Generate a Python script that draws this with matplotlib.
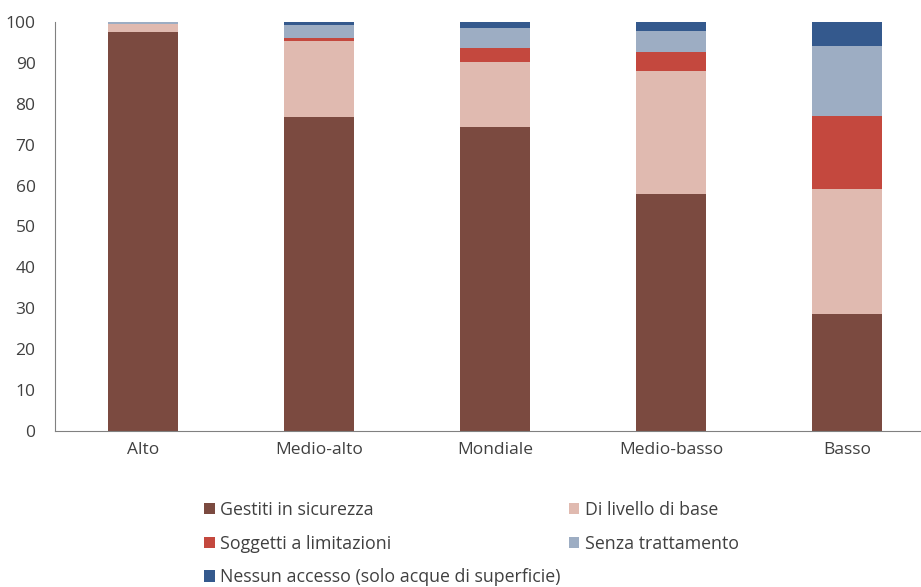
import matplotlib
matplotlib.use("Agg")
import matplotlib.pyplot as plt
from matplotlib.patches import Patch
import numpy as np

plt.rcParams['font.family'] = ['Open Sans', 'DejaVu Sans']

categories = ["Alto", "Medio-alto", "Mondiale", "Medio-basso", "Basso"]
series_names = ["Gestiti in sicurezza", "Di livello di base", "Soggetti a limitazioni",
                "Senza trattamento", "Nessun accesso (solo acque di superficie)"]
gestiti = [97.5, 76.7, 74.3, 58.0, 28.6]
base = [2.0, 18.7, 15.8, 29.9, 30.6]
limitazioni = [0.0, 0.6, 3.5, 4.7, 17.8]
senza = [0.5, 3.3, 4.9, 5.2, 17.1]
nessun = [0.0, 0.7, 1.5, 2.2, 5.9]
colors = ["#7B4A40", "#E0BAB0", "#C4483E", "#9DADC3", "#34598D"]

values = [gestiti, base, limitazioni, senza, nessun]
text_color = "#404040"

fig = plt.figure(figsize=(9.21, 5.87), dpi=100)
ax = fig.add_axes([55/921, (587-431)/587, (921-55)/921, (431-22)/587])

x = np.arange(len(categories))
bottom = np.zeros(len(categories))
for vals, col, name in zip(values, colors, series_names):
    ax.bar(x, vals, width=0.4, bottom=bottom, color=col, label=name, zorder=2)
    bottom += np.array(vals)

ax.set_ylim(0, 100)
ax.set_xlim(-0.5, 4.42)
ax.set_yticks(np.arange(0, 101, 10))
ax.set_xticks(x)
ax.set_xticklabels(categories)
ax.tick_params(axis='both', length=0, labelsize=12.5, colors=text_color, pad=8)
ax.tick_params(axis='y', pad=14)
for s in ["top", "right"]:
    ax.spines[s].set_visible(False)
for s in ["left", "bottom"]:
    ax.spines[s].set_color("#808080")
    ax.spines[s].set_linewidth(0.8)

order = [0, 2, 4, 1, 3]
handles = [Patch(facecolor=colors[i]) for i in order]
labels = [series_names[i] for i in order]
leg = fig.legend(handles, labels, ncol=2, loc="upper left",
                 bbox_to_anchor=(195/921, 1 - 492/587), frameon=False,
                 fontsize=12.8, handlelength=0.6, handleheight=0.6, handletextpad=0.3,
                 columnspacing=0.47, labelspacing=0.88, borderpad=0)
for t in leg.get_texts():
    t.set_color(text_color)

fig.savefig("out.png", dpi=100)
